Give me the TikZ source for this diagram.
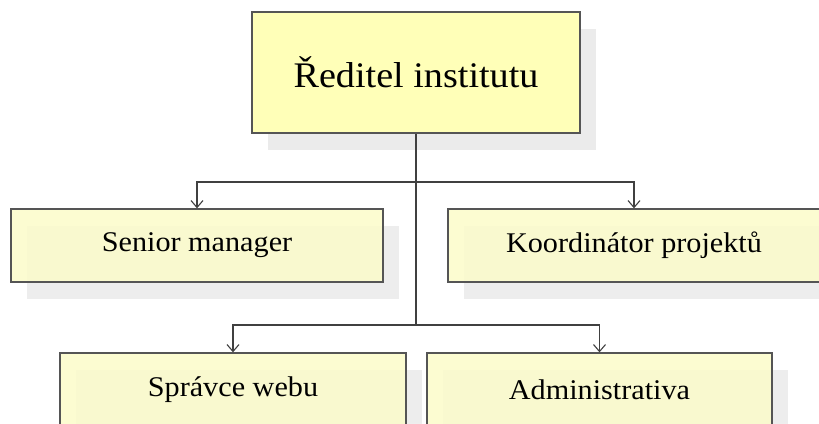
\documentclass[tikz,border=0pt]{standalone}
\usepackage{fontspec}
\setmainfont{Liberation Serif}
\usepackage{graphicx}
\usetikzlibrary{arrows.meta,shadows}

\definecolor{topyellow}{HTML}{FFFFB8}
\definecolor{paleyellow}{HTML}{FCFCCA}
\definecolor{shadowgrey}{HTML}{EBEBEB}
\definecolor{edgegrey}{HTML}{555555}

\newcommand{\wide}[1]{\scalebox{1.06}[1]{#1}}

\tikzset{
        unit/.style={draw=edgegrey, line width=1.3pt, fill=paleyellow, fill opacity=0.85, text opacity=1,
                general shadow={fill=shadowgrey, shadow xshift=16pt, shadow yshift=-17pt},
                inner sep=0pt, font=\fontsize{28.5}{32}\selectfont},
        link/.style={draw=black!75, line width=1.1pt},
        tip/.style={-{Straight Barb[length=7pt,width=12pt]}}
}

\begin{document}
\begin{tikzpicture}[x=1pt,y=-1pt]
        \clip (0,0) rectangle (819,423);
        \fill[white] (0,0) rectangle (819,423);

        \node[unit, fill=topyellow, fill opacity=1, minimum width=328pt, minimum height=121pt,
                font=\fontsize{36}{40}\selectfont] (dir) at (416,72.5) {\wide{Ředitel institutu}};

        \foreach \name/\x/\y/\w/\txt in {senior/197/245.5/372/{Senior manager},
                        koord/634/245.5/372/{Koordinátor projektů},
                        web/233/389.5/346/{Správce webu},
                        admin/599.5/389.5/345/{Administrativa}} {
                \node[unit, minimum width=\w pt, minimum height=73pt] (\name) at (\x,\y) {\wide{\txt}};
        }

        \coordinate (fork1) at (416,182);
        \coordinate (fork2) at (416,325);
        \draw[link] (dir.south) -- (fork2);
        \draw[link,tip] (fork1) -| (senior.north);
        \draw[link,tip] (fork1) -| (koord.north);
        \draw[link,tip] (fork2) -| (web.north);
        \draw[link,tip] (fork2) -| (admin.north);
\end{tikzpicture}
\end{document}
